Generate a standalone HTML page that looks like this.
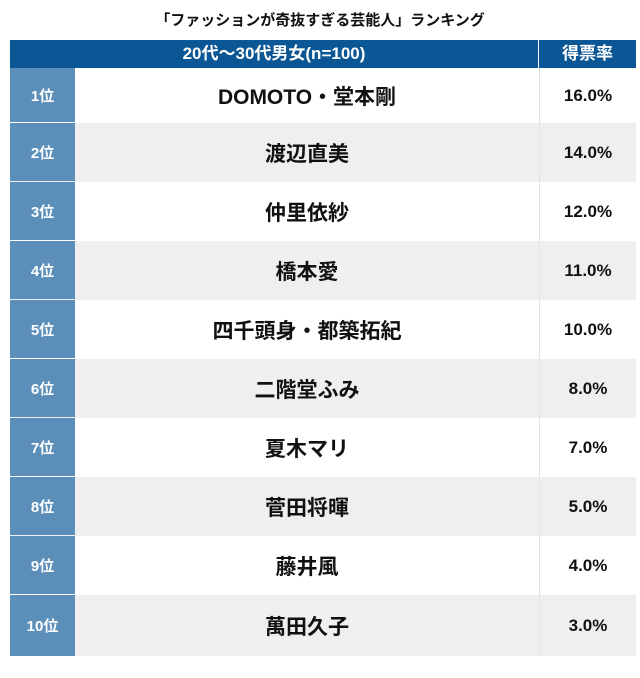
<!DOCTYPE html>
<html><head><meta charset="utf-8"><style>
body{margin:0;width:640px;height:678px;background:#fff;font-family:"Liberation Sans","Noto Sans CJK JP",sans-serif;position:relative;overflow:hidden}
.t{position:absolute;left:0;width:640px;top:9px;text-align:center;font-weight:bold;font-size:15px;color:#111}
.h{position:absolute;top:40px;height:28px;background:#0b5694;color:#fff;font-weight:bold;font-size:17px;line-height:28px;text-align:center}
.r{position:absolute;left:10px;width:626px}
.rk{position:absolute;left:0;width:65px;top:0;bottom:1px;background:#5b8fba;color:#fff;font-weight:bold;font-size:15px;display:flex;align-items:center;justify-content:center}
.nm{position:absolute;left:66px;width:462px;top:0;bottom:0;display:flex;align-items:center;justify-content:center;font-weight:bold;font-size:21px;color:#111}
.pc{position:absolute;left:529px;right:0;top:0;bottom:0;border-left:1px solid #e4e4e4;display:flex;align-items:center;justify-content:center;font-weight:bold;font-size:17px;color:#111}
</style></head><body>
<div class="t">「ファッションが奇抜すぎる芸能人」ランキング</div>
<div class="h" style="left:10px;width:528px">20代～30代男女(n=100)</div>
<div class="h" style="left:539px;width:97px">得票率</div>
<div class="r" style="top:68px;height:55px;background:#fff"><div class="rk">1位</div><div class="nm">DOMOTO・堂本剛</div><div class="pc">16.0%</div></div>
<div class="r" style="top:123px;height:59px;background:#efefef"><div class="rk">2位</div><div class="nm">渡辺直美</div><div class="pc">14.0%</div></div>
<div class="r" style="top:182px;height:59px;background:#fff"><div class="rk">3位</div><div class="nm">仲里依紗</div><div class="pc">12.0%</div></div>
<div class="r" style="top:241px;height:59px;background:#efefef"><div class="rk">4位</div><div class="nm">橋本愛</div><div class="pc">11.0%</div></div>
<div class="r" style="top:300px;height:59px;background:#fff"><div class="rk">5位</div><div class="nm">四千頭身・都築拓紀</div><div class="pc">10.0%</div></div>
<div class="r" style="top:359px;height:59px;background:#efefef"><div class="rk">6位</div><div class="nm">二階堂ふみ</div><div class="pc">8.0%</div></div>
<div class="r" style="top:418px;height:59px;background:#fff"><div class="rk">7位</div><div class="nm">夏木マリ</div><div class="pc">7.0%</div></div>
<div class="r" style="top:477px;height:59px;background:#efefef"><div class="rk">8位</div><div class="nm">菅田将暉</div><div class="pc">5.0%</div></div>
<div class="r" style="top:536px;height:59px;background:#fff"><div class="rk">9位</div><div class="nm">藤井風</div><div class="pc">4.0%</div></div>
<div class="r" style="top:595px;height:61px;background:#efefef"><div class="rk" style="bottom:0">10位</div><div class="nm">萬田久子</div><div class="pc">3.0%</div></div>
</body></html>
